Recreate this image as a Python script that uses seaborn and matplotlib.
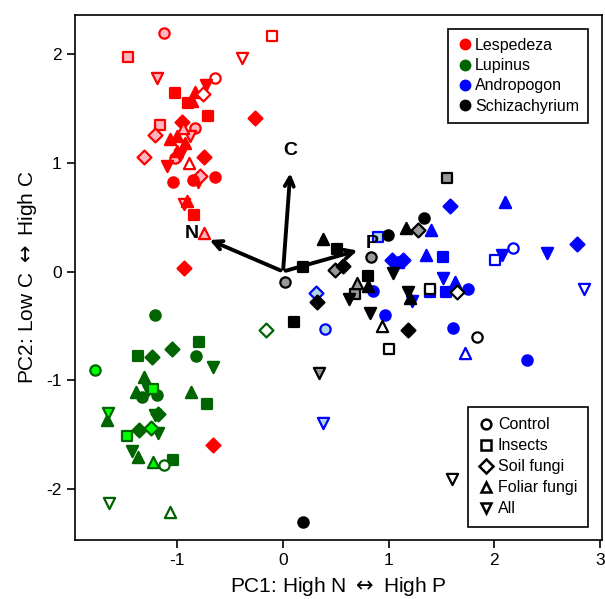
import numpy as np
import pandas as pd
import seaborn as sns
import matplotlib.pyplot as plt
from matplotlib.lines import Line2D

sns.set_style('ticks')
plt.rcParams['font.family'] = ['Liberation Sans', 'DejaVu Sans']
plt.rcParams['axes.unicode_minus'] = False
for k in ['text.color', 'axes.labelcolor', 'xtick.color', 'ytick.color', 'axes.edgecolor']:
    plt.rcParams[k] = 'black'

# treatment codes: C=Control, I=Insects, S=Soil fungi, F=Foliar fungi, A=All
# fill codes: f=full, l=light, o=open

# Lespedeza
lesp_x = [-1.13, -1.47, -0.10, -0.39, -1.19, -0.64, -0.73, -0.83, -0.76, -1.02,
          -0.90, -0.86, -0.71, -0.27, -1.17, -0.96, -0.83, -0.95, -1.21, -0.88,
          -1.07, -1.00, -0.93, -1.00, -0.98, -1.32, -1.02, -0.89, -0.75, -1.10,
          -1.04, -0.85, -0.79, -0.81, -0.64, -0.94, -0.91, -0.84, -0.75, -0.94, -0.66]
lesp_y = [2.19, 1.97, 2.17, 1.96, 1.78, 1.78, 1.72, 1.65, 1.63, 1.64,
          1.55, 1.57, 1.43, 1.41, 1.35, 1.38, 1.32, 1.32, 1.26, 1.25,
          1.22, 1.25, 1.18, 1.11, 1.07, 1.05, 1.04, 1.00, 1.05, 0.97,
          0.82, 0.84, 0.88, 0.82, 0.87, 0.62, 0.65, 0.52, 0.35, 0.03, -1.60]
lesp_trt = ['C', 'I', 'I', 'A', 'A', 'C', 'A', 'F', 'S', 'I',
            'I', 'F', 'I', 'S', 'I', 'S', 'C', 'F', 'S', 'A',
            'F', 'F', 'F', 'F', 'A', 'S', 'C', 'F', 'S', 'A',
            'C', 'C', 'S', 'A', 'C', 'A', 'F', 'I', 'F', 'S', 'S']
lesp_fill = ['l', 'l', 'o', 'o', 'l', 'o', 'f', 'f', 'o', 'f',
             'f', 'f', 'f', 'f', 'l', 'f', 'l', 'l', 'l', 'l',
             'f', 'f', 'f', 'f', 'f', 'l', 'l', 'o', 'f', 'f',
             'f', 'f', 'l', 'f', 'f', 'l', 'f', 'f', 'l', 'f', 'f']

# Lupinus
lupi_x = [-1.21, -0.80, -1.05, -1.37, -1.24, -0.82, -0.66, -1.78, -1.32, -1.39,
          -1.34, -1.28, -1.23, -1.19, -0.87, -0.72, -1.66, -1.67, -1.18, -1.21,
          -1.36, -1.25, -1.18, -1.48, -1.43, -1.37, -1.23, -1.13, -1.04, -1.65,
          -1.07, -0.16]
lupi_y = [-0.40, -0.65, -0.71, -0.78, -0.79, -0.78, -0.88, -0.91, -0.97, -1.11,
          -1.15, -1.09, -1.08, -1.14, -1.11, -1.22, -1.30, -1.37, -1.31, -1.32,
          -1.46, -1.44, -1.49, -1.51, -1.65, -1.71, -1.75, -1.78, -1.73, -2.13,
          -2.21, -0.54]
lupi_trt = ['C', 'I', 'S', 'I', 'S', 'C', 'A', 'C', 'F', 'F',
            'C', 'A', 'I', 'C', 'F', 'I', 'A', 'F', 'S', 'A',
            'S', 'S', 'A', 'I', 'A', 'F', 'F', 'C', 'I', 'A',
            'F', 'S']
lupi_fill = ['f', 'f', 'f', 'f', 'f', 'f', 'f', 'l', 'f', 'f',
             'f', 'f', 'l', 'f', 'f', 'f', 'l', 'f', 'f', 'f',
             'f', 'l', 'f', 'l', 'f', 'f', 'l', 'o', 'f', 'o',
             'o', 'o']

# Andropogon
andr_x = [0.90, 1.03, 1.09, 1.14, 1.40, 1.35, 1.51, 1.58, 2.10, 2.01,
          2.07, 2.18, 2.50, 2.78, 2.85, 1.51, 1.63, 1.75, 1.39, 1.54,
          1.22, 0.85, 0.31, 0.40, 0.97, 1.61, 1.72, 2.31, 0.38]
andr_y = [0.32, 0.11, 0.09, 0.11, 0.38, 0.15, 0.13, 0.60, 0.64, 0.11,
          0.15, 0.22, 0.17, 0.25, -0.16, -0.06, -0.10, -0.16, -0.19, -0.19,
          -0.27, -0.18, -0.20, -0.53, -0.40, -0.52, -0.75, -0.81, -1.39]
andr_trt = ['I', 'S', 'F', 'S', 'F', 'F', 'I', 'S', 'F', 'I',
            'A', 'C', 'A', 'S', 'A', 'A', 'F', 'C', 'I', 'I',
            'A', 'C', 'S', 'C', 'C', 'C', 'F', 'C', 'A']
andr_fill = ['l', 'f', 'f', 'f', 'f', 'f', 'f', 'f', 'f', 'o',
             'f', 'o', 'f', 'f', 'o', 'f', 'f', 'f', 'f', 'f',
             'f', 'f', 'l', 'l', 'f', 'f', 'o', 'f', 'l']

# Schizachyrium
schi_x = [0.38, 0.51, 0.19, 0.02, 0.49, 0.57, 0.83, 0.99, 1.16, 1.33,
          1.28, 1.55, 1.04, 0.80, 0.70, 0.80, 0.68, 0.62, 0.32, 1.18,
          1.20, 1.39, 1.65, 0.82, 0.94, 1.18, 1.00, 0.10, 0.34, 1.84,
          1.60, 0.19]
schi_y = [0.30, 0.21, 0.04, -0.10, 0.01, 0.05, 0.13, 0.34, 0.40, 0.49,
          0.38, 0.86, -0.01, -0.04, -0.11, -0.13, -0.21, -0.25, -0.28, -0.19,
          -0.24, -0.16, -0.19, -0.38, -0.50, -0.54, -0.71, -0.46, -0.93, -0.60,
          -1.91, -2.30]
schi_trt = ['F', 'I', 'I', 'C', 'S', 'S', 'C', 'C', 'F', 'C',
            'S', 'I', 'A', 'I', 'F', 'F', 'I', 'A', 'S', 'A',
            'F', 'I', 'S', 'A', 'F', 'S', 'I', 'I', 'A', 'C',
            'A', 'C']
schi_fill = ['f', 'f', 'f', 'l', 'l', 'f', 'l', 'f', 'f', 'f',
             'l', 'l', 'f', 'f', 'l', 'f', 'l', 'f', 'f', 'f',
             'f', 'o', 'o', 'f', 'o', 'f', 'o', 'f', 'l', 'o',
             'o', 'f']

# loading arrows (PC1, PC2)
arrow_names = ['N', 'P', 'C']
arrow_x = [-0.72, 0.73, 0.07]
arrow_y = [0.30, 0.20, 0.93]

species = ['Lespedeza', 'Lupinus', 'Andropogon', 'Schizachyrium']
treatments = ['Control', 'Insects', 'Soil fungi', 'Foliar fungi', 'All']

frames = []
for sp, xs, ys, tr, fl in [('Lespedeza', lesp_x, lesp_y, lesp_trt, lesp_fill),
                           ('Lupinus', lupi_x, lupi_y, lupi_trt, lupi_fill),
                           ('Andropogon', andr_x, andr_y, andr_trt, andr_fill),
                           ('Schizachyrium', schi_x, schi_y, schi_trt, schi_fill)]:
    frames.append(pd.DataFrame({'PC1': xs, 'PC2': ys, 'species': sp,
                                'trt': tr, 'fill': fl}))
df = pd.concat(frames, ignore_index=True)

edge_col = {'Lespedeza': '#FF0000', 'Lupinus': '#006400',
            'Andropogon': '#0000FF', 'Schizachyrium': '#000000'}
light_col = {'Lespedeza': '#FFB6C1', 'Lupinus': '#00FF00',
             'Andropogon': '#ADD8E6', 'Schizachyrium': '#999999'}
markers = {'C': 'o', 'I': 's', 'S': 'D', 'F': '^', 'A': 'v'}
sizes = {'C': 55, 'I': 50, 'S': 50, 'F': 65, 'A': 65}

fig = plt.figure(figsize=(6.05, 5.99), dpi=100)
ax = fig.add_axes([0.124, 0.0985, 0.871, 0.8765])

for (sp, tr, fl), sub in df.groupby(['species', 'trt', 'fill'], sort=False):
    if fl == 'f':
        face = edge_col[sp]
    elif fl == 'l':
        face = light_col[sp]
    else:
        face = 'white'
    sns.scatterplot(data=sub, x='PC1', y='PC2', marker=markers[tr],
                    color=face, edgecolor=edge_col[sp], s=sizes[tr],
                    linewidth=1.6, ax=ax, zorder=3)

for name, ax_, ay_ in zip(arrow_names, arrow_x, arrow_y):
    ax.annotate('', xy=(ax_, ay_), xytext=(0, 0),
                arrowprops=dict(arrowstyle='->', lw=2.8, color='black',
                                mutation_scale=16), zorder=4)
ax.text(0.07, 1.11, 'C', fontsize=14, fontweight='bold', ha='center', va='center')
ax.text(0.84, 0.26, 'P', fontsize=14, fontweight='bold', ha='center', va='center')
ax.text(-0.86, 0.35, 'N', fontsize=14, fontweight='bold', ha='center', va='center')

ax.set_xlim(-1.97, 3.02)
ax.set_ylim(-2.47, 2.36)
ax.set_xticks([-1, 0, 1, 2, 3])
ax.set_yticks([-2, -1, 0, 1, 2])
ax.tick_params(labelsize=12.5, length=6, width=1.2, direction='out')
for s in ax.spines.values():
    s.set_linewidth(1.2)
ax.set_xlabel(r'PC1: High N $\leftrightarrow$ High P', fontsize=15, labelpad=5)
ax.set_ylabel(r'PC2: Low C $\leftrightarrow$ High C', fontsize=15, labelpad=5)

sp_handles = [Line2D([], [], marker='o', linestyle='', markersize=7.5,
                     markerfacecolor=edge_col[s], markeredgecolor=edge_col[s])
              for s in species]
leg1 = ax.legend(sp_handles, species, loc='upper right', fontsize=11.5,
                 frameon=True, fancybox=False, edgecolor='black',
                 handletextpad=0.15, borderpad=0.55, labelspacing=0.33,
                 handlelength=1.0, borderaxespad=0, framealpha=1,
                 bbox_to_anchor=(0.973, 0.973))
leg1.get_frame().set_linewidth(1.2)
ax.add_artist(leg1)

tr_handles = [Line2D([], [], marker=markers[t], linestyle='', markersize=7,
                     markerfacecolor='white', markeredgecolor='black',
                     markeredgewidth=1.8) for t in ['C', 'I', 'S', 'F', 'A']]
leg2 = ax.legend(tr_handles, treatments, loc='lower right', fontsize=11.5,
                 frameon=True, fancybox=False, edgecolor='black',
                 handletextpad=0.25, borderpad=0.65, labelspacing=0.38,
                 handlelength=1.0, borderaxespad=0, framealpha=1,
                 bbox_to_anchor=(0.973, 0.025))
leg2.get_frame().set_linewidth(1.2)

fig.savefig('out.png', dpi=100)
